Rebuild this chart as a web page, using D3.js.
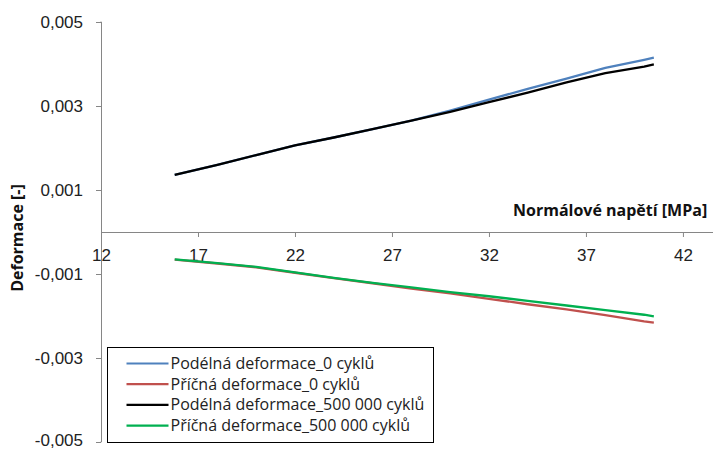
<!DOCTYPE html>
<html>
<head>
<meta charset="utf-8">
<script src="https://cdn.jsdelivr.net/npm/d3@7"></script>
<style>
  html, body { margin: 0; padding: 0; background: #fff; }
  svg { display: block; font-family: "Open Sans", "Noto Sans", sans-serif; }
</style>
</head>
<body>
<svg id="chart" width="713" height="450"></svg>
<script>
// Normal stress [MPa]
const stress = [15.8, 18, 20, 22, 24, 26, 28, 30, 32, 34, 36, 38, 40, 40.5];

// Strain series
const podelna0   = [0.00136, 0.00160, 0.00183, 0.00206, 0.00225, 0.00245, 0.00265, 0.00289, 0.00315, 0.00341, 0.00365, 0.00391, 0.00410, 0.00415];
const pricna0    = [-0.00066, -0.00075, -0.00084, -0.00097, -0.00110, -0.00122, -0.00135, -0.00146, -0.00159, -0.00172, -0.00184, -0.00198, -0.00213, -0.00216];
const podelna500 = [0.00136, 0.00160, 0.00183, 0.00206, 0.00225, 0.00245, 0.00265, 0.00286, 0.00309, 0.00332, 0.00356, 0.00378, 0.00394, 0.00399];
const pricna500  = [-0.00065, -0.00074, -0.00083, -0.00096, -0.00109, -0.00121, -0.00132, -0.00143, -0.00153, -0.00164, -0.00175, -0.00186, -0.00197, -0.00201];

const seriesNames = [
  "Podélná deformace_0 cyklů",
  "Příčná deformace_0 cyklů",
  "Podélná deformace_500 000 cyklů",
  "Příčná deformace_500 000 cyklů"
];
const seriesColors = ["#4F81BD", "#C0504D", "#000000", "#00B050"];

const xTicks = [12, 17, 22, 27, 32, 37, 42];
const yTicks = [0.005, 0.003, 0.001, -0.001, -0.003, -0.005];
const xTitle = "Normálové napětí [MPa]";
const yTitle = "Deformace [-]";

const svg = d3.select("#chart");

const x = d3.scaleLinear().domain([12, 43.55]).range([101, 713]);
const y = d3.scaleLinear().domain([-0.005, 0.005]).range([442, 22]);

const fmt = v => d3.format(".3f")(v).replace(".", ",").replace("−", "-");
const axisColor = "#868686";

// Y axis at x = 12
const yAxis = svg.append("g")
  .attr("transform", `translate(${x(12)},0)`)
  .call(d3.axisLeft(y).tickValues(yTicks).tickFormat(fmt).tickSize(5).tickPadding(13));
yAxis.select(".domain").attr("stroke", axisColor).attr("d", `M-0.5,${y(0.005)}H0.5V${y(-0.005)}H-0.5`).attr("stroke-width", 1);
yAxis.selectAll(".tick line").attr("stroke", axisColor);
yAxis.selectAll(".tick text").attr("fill", "#222").style("font-size", "17px")
  .attr("dy", d => d === -0.005 ? "0.2em" : "0.32em");

// X axis along zero strain
const xAxis = svg.append("g")
  .attr("transform", `translate(0,${y(0)})`)
  .call(d3.axisBottom(x).tickValues(xTicks).tickFormat(d3.format("d")).tickSize(5).tickPadding(12));
xAxis.select(".domain").attr("stroke", axisColor).attr("d", `M${x(12)},0.5H713`);
xAxis.selectAll(".tick line").attr("stroke", axisColor);
xAxis.selectAll(".tick text").attr("fill", "#222").style("font-size", "17px");

// Axis titles
svg.append("text")
  .attr("x", 513).attr("y", 216)
  .attr("fill", "#111")
  .style("font-size", "16px").style("font-weight", "bold")
  .text(xTitle);

svg.append("text")
  .attr("transform", `translate(23,238) rotate(-90)`)
  .attr("text-anchor", "middle")
  .attr("fill", "#111")
  .style("font-size", "16px").style("font-weight", "bold")
  .text(yTitle);

// Data lines
const allSeries = [podelna0, pricna0, podelna500, pricna500];
const line = d3.line().x(d => x(d[0])).y(d => y(d[1]));
allSeries.forEach((vals, i) => {
  svg.append("path")
    .datum(stress.map((s, k) => [s, vals[k]]))
    .attr("fill", "none")
    .attr("stroke", seriesColors[i])
    .attr("stroke-width", 2.3)
    .attr("stroke-linejoin", "round")
    .attr("d", line);
});

// Legend
const legend = svg.append("g").attr("transform", "translate(107.5,347.5)");
legend.append("rect")
  .attr("width", 326).attr("height", 95)
  .attr("fill", "#fff").attr("stroke", "#000").attr("stroke-width", 1);
seriesNames.forEach((name, i) => {
  const cy = 16 + i * 20.7;
  legend.append("line")
    .attr("x1", 19).attr("x2", 61).attr("y1", cy).attr("y2", cy)
    .attr("stroke", seriesColors[i]).attr("stroke-width", 2.2);
  legend.append("text")
    .attr("x", 63).attr("y", cy + 5.5)
    .attr("fill", "#222")
    .style("font-size", "16px")
    .text(name);
});
</script>
</body>
</html>
